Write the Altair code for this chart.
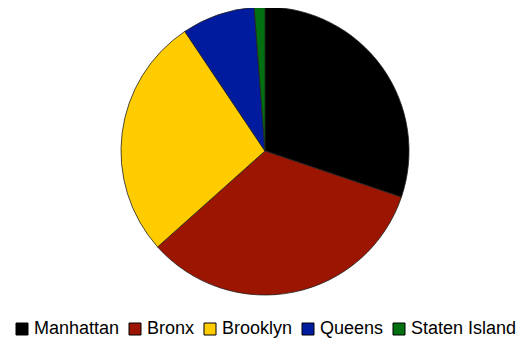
import altair as alt
import pandas as pd

boroughs = ["Manhattan", "Bronx", "Brooklyn", "Queens", "Staten Island"]
shares = [30.2, 33.2, 27.2, 8.2, 1.2]
colors = ["#000000", "#9b1500", "#ffcc00", "#001b9e", "#007010"]

df = pd.DataFrame({"borough": boroughs, "share": shares, "idx": list(range(len(boroughs)))})

chart = alt.Chart(df).mark_arc(
    outerRadius=144, stroke="#222222", strokeWidth=0.8
).encode(
    theta=alt.Theta("share:Q", stack=True),
    order=alt.Order("idx:Q"),
    x=alt.value(257),
    y=alt.value(143),
    color=alt.Color(
        "borough:N",
        scale=alt.Scale(domain=boroughs, range=colors),
        sort=boroughs,
        legend=alt.Legend(
            title=None,
            orient="none",
            legendX=5,
            legendY=312,
            direction="horizontal",
            symbolType="square",
            symbolSize=144,
            symbolStrokeColor="#000000",
            symbolStrokeWidth=1,
            symbolOpacity=1,
            labelFont="Liberation Sans",
            labelFontSize=18,
            labelColor="#000000",
            labelOffset=3,
            columnPadding=6,
            labelLimit=300,
            padding=0,
        ),
    ),
).properties(
    width=509, height=331, padding=0,
    autosize=alt.AutoSizeParams(type="none"),
).configure_view(stroke=None)

chart.save("out.html", embed_options={"renderer": "svg", "actions": False})
